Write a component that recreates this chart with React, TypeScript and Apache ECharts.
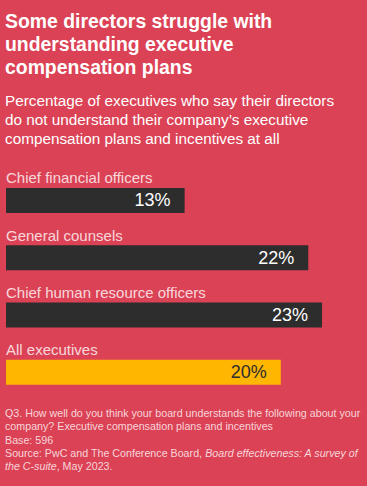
import React, { useEffect, useRef } from "react";
import * as echarts from "echarts";

const categories = [
  "Chief financial officers",
  "General counsels",
  "Chief human resource officers",
  "All executives",
];
const values = [13, 22, 23, 20];
const barColors = ["#2d2d2d", "#2d2d2d", "#2d2d2d", "#ffb600"];
const labelColors = ["#ffffff", "#ffffff", "#ffffff", "#2d2d2d"];

const titleText = "Some directors struggle with\nunderstanding executive\ncompensation plans";
const subtitleText =
  "Percentage of executives who say their directors\ndo not understand their company\u2019s executive\ncompensation plans and incentives at all";

const BG = "#db4255";
const FONT = "'Liberation Sans', Arial, Helvetica, sans-serif";

export default function App() {
  const ref = useRef<HTMLDivElement>(null);
  useEffect(() => {
    document.body.style.margin = "0";
    const chart = echarts.init(ref.current!, null, { renderer: "svg" });
    chart.setOption({
      animation: false,
      backgroundColor: BG,
      textStyle: { fontFamily: FONT },
      title: [
        {
          text: titleText,
          left: 5,
          top: 9,
          padding: 0,
          textStyle: {
            color: "#ffffff",
            fontSize: 19.4,
            fontWeight: "bold",
            lineHeight: 23,
            fontFamily: FONT,
          },
        },
        {
          text: subtitleText,
          left: 5,
          top: 90.5,
          padding: 0,
          textStyle: {
            color: "#ffffff",
            fontSize: 15.3,
            fontWeight: "normal",
            lineHeight: 19,
            fontFamily: FONT,
          },
        },
        {
          text:
            "Q3. How well do you think your board understands the following about your\ncompany? Executive compensation plans and incentives\nBase: 596\nSource: PwC and The Conference Board, {i|Board effectiveness: A survey of}\n{i|the C-suite}, May 2023.",
          left: 5,
          top: 406.5,
          padding: 0,
          textStyle: {
            color: "#f7d5da",
            fontSize: 10.7,
            fontWeight: "normal",
            lineHeight: 13.2,
            fontFamily: FONT,
            rich: {
              i: {
                color: "#f7d5da",
                fontSize: 10.7,
                fontStyle: "italic",
                lineHeight: 13.2,
                fontFamily: FONT,
              },
            },
          },
        },
      ],
      grid: { left: 6, top: 171.85, height: 229, width: 343.5 },
      xAxis: {
        type: "value",
        min: 0,
        max: 25,
        show: false,
        splitLine: { show: false },
      },
      yAxis: {
        type: "category",
        data: categories,
        inverse: true,
        show: false,
      },
      series: [
        {
          type: "bar",
          barWidth: 25,
          data: values.map((v, i) => ({
            value: v,
            itemStyle: { color: barColors[i] },
            label: { color: labelColors[i] },
          })),
          label: {
            show: true,
            position: "insideRight",
            distance: 14,
            formatter: "{c}%",
            fontSize: 18,
            fontFamily: FONT,
          },
          silent: true,
        },
        {
          type: "scatter",
          symbolSize: 0,
          data: categories.map((c, i) => [0, i]),
          label: {
            show: true,
            position: "right",
            distance: 0,
            offset: [0, -22.5],
            color: "#ffffff",
            fontSize: 15,
            fontFamily: FONT,
            formatter: (p: any) => categories[p.dataIndex],
          },
          silent: true,
        },
      ],
    });
    return () => chart.dispose();
  }, []);
  return (
    <div
      ref={ref}
      style={{ position: "absolute", left: 0, top: 0, width: 367, height: 486 }}
    />
  );
}
